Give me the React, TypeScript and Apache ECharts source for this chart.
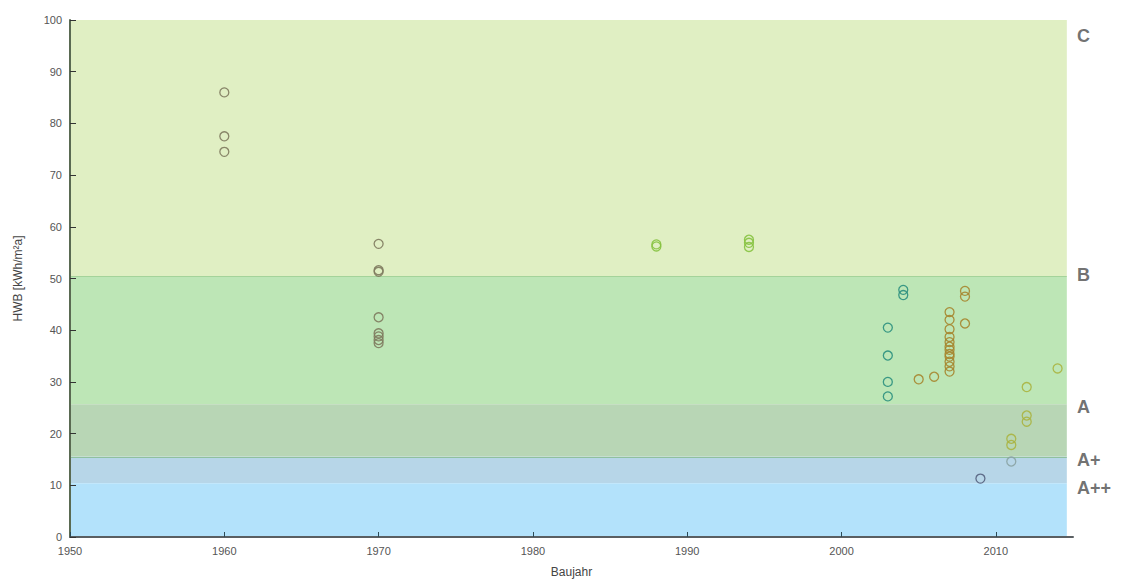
import React, { useEffect, useRef } from "react";
import * as echarts from "echarts";

// Data: [Baujahr, HWB]
const oldBuildings: [number, number][] = [
  [1960, 86], [1960, 77.5], [1960, 74.5],
  [1970, 56.7], [1970, 51.6], [1970, 51.3], [1970, 42.5],
  [1970, 39.4], [1970, 38.8], [1970, 38.1], [1970, 37.5],
];
const midBuildings: [number, number][] = [
  [1988, 56.6], [1988, 56.2],
  [1994, 57.5], [1994, 56.9], [1994, 56.1],
];
const tealBuildings: [number, number][] = [
  [2003, 40.5], [2003, 35.1], [2003, 30], [2003, 27.2],
  [2004, 47.8], [2004, 46.8],
];
const brownBuildings: [number, number][] = [
  [2005, 30.5], [2006, 31],
  [2007, 43.5], [2007, 42], [2007, 40.2], [2007, 38.7], [2007, 37.7],
  [2007, 36.8], [2007, 36.2], [2007, 35.4], [2007, 34.9], [2007, 33.9],
  [2007, 33], [2007, 32],
  [2008, 47.6], [2008, 46.5], [2008, 41.3],
];
const navyBuildings: [number, number][] = [[2009, 11.3]];
const greyBuildings: [number, number][] = [[2011, 14.6]];
const oliveBuildings: [number, number][] = [
  [2011, 19], [2011, 17.8],
  [2012, 29], [2012, 23.5], [2012, 22.3],
  [2014, 32.6],
];

const bandNames = ["C", "B", "A", "A+", "A++"];
const bandLower = [50.4, 25.7, 15.5, 10.4, 0];
const bandUpper = [100, 50.4, 25.7, 15.5, 10.4];
const bandColors = ["#e0efc3", "#bde6b6", "#b8d6b5", "#b7d6e8", "#b3e2fb"];
const bandLabelY = [97, 50.6, 25.1, 14.8, 9.4];

const xTicks = [1950, 1960, 1970, 1980, 1990, 2000, 2010];
const bandXEnd = 2014.6;

export default function App() {
  const ref = useRef<HTMLDivElement>(null);
  useEffect(() => {
    if (!ref.current) return;
    const chart = echarts.init(ref.current, undefined, { renderer: "svg" });
    const scatter = (name: string, data: [number, number][], color: string) => ({
      name,
      type: "scatter",
      data,
      symbol: "circle",
      symbolSize: 9,
      itemStyle: { color: "rgba(0,0,0,0)", borderColor: color, borderWidth: 1.3, opacity: 0.9 },
      z: 5,
    });
    chart.setOption({
      animation: false,
      grid: { left: 70, right: 51, top: 20, bottom: 41 },
      xAxis: {
        type: "value",
        min: 1950,
        max: 2015,
        interval: 10,
        z: 10,
        name: "Baujahr",
        nameLocation: "middle",
        nameGap: 29,
        nameTextStyle: { color: "#444", fontSize: 12, fontFamily: "Liberation Sans" },
        axisLine: { show: true, lineStyle: { color: "#5a5f62", width: 2 } },
        axisTick: { show: true, inside: true, length: 5, customValues: xTicks, lineStyle: { color: "#2d4a55" } },
        axisLabel: {
          customValues: xTicks,
          formatter: (v: number) => String(v),
          color: "#555",
          fontSize: 11,
          fontFamily: "Liberation Sans",
          margin: 8,
        },
        splitLine: { show: false },
      },
      yAxis: {
        type: "value",
        min: 0,
        max: 100,
        interval: 10,
        z: 10,
        name: "HWB [kWh/m²a]",
        nameLocation: "middle",
        nameGap: 46,
        nameTextStyle: { color: "#444", fontSize: 12, fontFamily: "Liberation Sans" },
        axisLine: { show: true, lineStyle: { color: "#5a6a52", width: 2 } },
        axisTick: { show: true, inside: true, length: 6, lineStyle: { color: "#333" } },
        axisLabel: { color: "#555", fontSize: 11, fontFamily: "Liberation Sans", margin: 8 },
        splitLine: { show: false },
      },
      series: [
        {
          type: "scatter",
          data: [],
          markArea: {
            silent: true,
            data: bandNames.map((n, i) => [
              { xAxis: 1950, yAxis: bandLower[i], itemStyle: { color: bandColors[i], opacity: 1 } },
              { xAxis: bandXEnd, yAxis: bandUpper[i] },
            ]),
          },
          markLine: {
            silent: true,
            symbol: "none",
            label: { show: false },
            lineStyle: { type: "solid", width: 1, color: "#a4d39a" },
            data: [
              [{ coord: [1950, 50.4] }, { coord: [bandXEnd, 50.4] }],
              [{ coord: [1950, 15.5] }, { coord: [bandXEnd, 15.5], lineStyle: { color: "#8fc0a0" } }],
            ],
          },
          z: 1,
        },
        scatter("old", oldBuildings, "#7e7a5e"),
        scatter("mid", midBuildings, "#86c240"),
        scatter("teal", tealBuildings, "#2a8f7e"),
        scatter("brown", brownBuildings, "#a6852e"),
        scatter("navy", navyBuildings, "#55627f"),
        scatter("grey", greyBuildings, "#8aa3a3"),
        scatter("olive", oliveBuildings, "#aab440"),
        {
          type: "scatter",
          data: bandNames.map((n, i) => [2015, bandLabelY[i], n]),
          symbolSize: 0,
          silent: true,
          label: {
            show: true,
            position: "right",
            distance: 4,
            formatter: (p: any) => p.data[2],
            color: "#4d4d4d",
            fontSize: 18,
            fontWeight: "bold",
            fontFamily: "Liberation Sans",
          },
          z: 6,
        },
      ],
    });
    return () => chart.dispose();
  }, []);
  return (
    <div
      ref={ref}
      style={{ position: "fixed", left: 0, top: 0, width: 1124, height: 583, background: "#fff" }}
    />
  );
}
